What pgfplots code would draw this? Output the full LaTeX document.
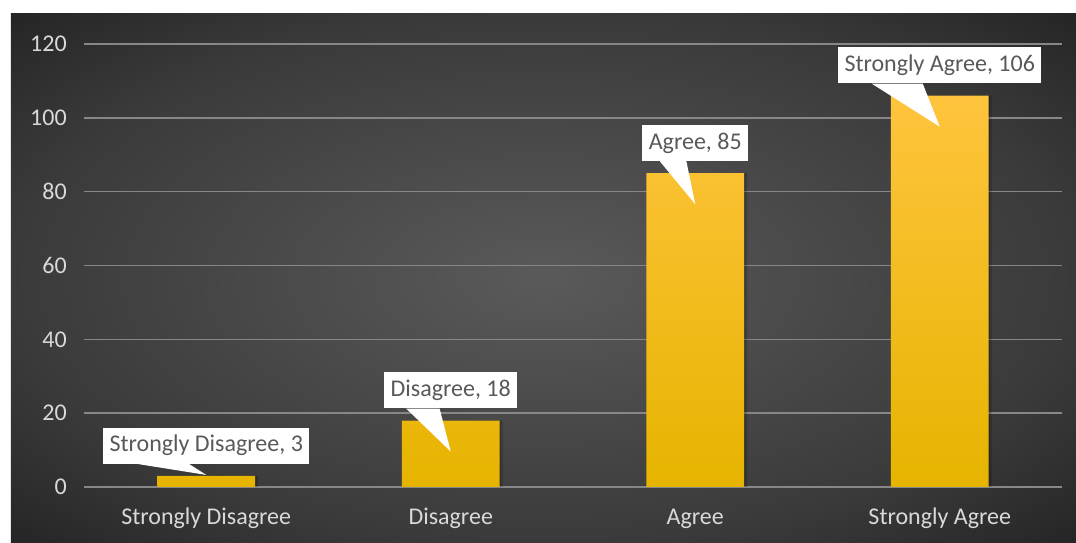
\documentclass[border=0pt]{standalone}
\usepackage{pgfplots}
\pgfplotsset{compat=1.18}
\usepackage{pgfplotstable}
\usepackage{fontspec}
\setmainfont{Carlito}
\usetikzlibrary{calc}

\definecolor{bgIn}{HTML}{5A5A5A}
\definecolor{bgMid}{HTML}{3A3A3A}
\definecolor{bgOut}{HTML}{242424}
\definecolor{gridc}{HTML}{878787}
\definecolor{tickc}{HTML}{D9D9D9}
\definecolor{lblc}{HTML}{595959}
\definecolor{barTop}{HTML}{FFC43D}
\definecolor{barMid}{HTML}{FFC600}
\definecolor{barBot}{HTML}{E6B400}

\pgfdeclareradialshading{bgshade}{\pgfpoint{0bp}{0bp}}{color(0bp)=(bgIn); color(25bp)=(bgMid); color(36bp)=(bgOut); color(50bp)=(bgOut)}

\pgfplotstableread{
x y label tail
0 3 {Strongly Disagree, 3} 8.25
1 18 {Disagree, 18} 32.25
2 85 {Agree, 85} 32.25
3 106 {Strongly Agree, 106} 32.25
}\datatable

\begin{document}
\begin{tikzpicture}
\fill[white] (-63pt,-42pt) rectangle (744pt,365.25pt);
\shade[shading=bgshade] (-54.75pt,-42pt) rectangle (744pt,354.75pt);
\begin{axis}[
  at={(0pt,0pt)}, anchor=south west,
  scale only axis, width=733.5pt, height=332.25pt,
  xmin=-0.5, xmax=3.5, ymin=0, ymax=120,
  axis line style={draw=none},
  xtick={0,1,2,3},
  xticklabels={Strongly Disagree, Disagree, Agree, Strongly Agree},
  ytick={0,20,...,120},
  major tick length=0pt,
  ymajorgrids, grid style={gridc, line width=1.2pt},
  tick label style={font=\fontsize{18}{21.6}\selectfont, text=tickc},
  /pgf/number format/assume math mode=true,
  xticklabel style={inner sep=0pt, text height=13pt, text depth=4pt, yshift=-14.75pt},
  yticklabel style={inner sep=0pt, xshift=-12.75pt},
  clip=false,
]
% soft shadow
\addplot[ybar, bar width=0.4, bar shift=0.014, draw=none, fill=black, fill opacity=0.12]
  table[x=x, y=y] {\datatable};
\addplot[ybar, bar width=0.4, bar shift=0.007, draw=none, fill=black, fill opacity=0.15]
  table[x=x, y=y] {\datatable};
\addplot[ybar, bar width=0.4, draw=none, top color=barTop, middle color=barMid, bottom color=barBot]
  table[x=x, y=y] {\datatable};
\addplot[draw=none, mark=none,
  point meta=explicit symbolic,
  nodes near coords,
  visualization depends on={\thisrow{tail} \as \taillen},
  nodes near coords style={anchor=south, yshift=9pt, fill=white, text=lblc,
    font=\fontsize{18}{21.6}\selectfont, inner xsep=4.9pt, inner ysep=4.9pt,
    text height=13.2pt, text depth=4pt,
    append after command={\pgfextra{\let\LN\tikzlastnode
      \fill[white] ($(\LN.south west)!0.1667!(\LN.south east)$) -- ($(\LN.south west)!0.4167!(\LN.south east)$) -- ($(\LN.south)+(0pt,-\taillen pt)$) -- cycle;}}
  }
] table[x=x, y=y, meta=label] {\datatable};
\end{axis}
\end{tikzpicture}
\end{document}
